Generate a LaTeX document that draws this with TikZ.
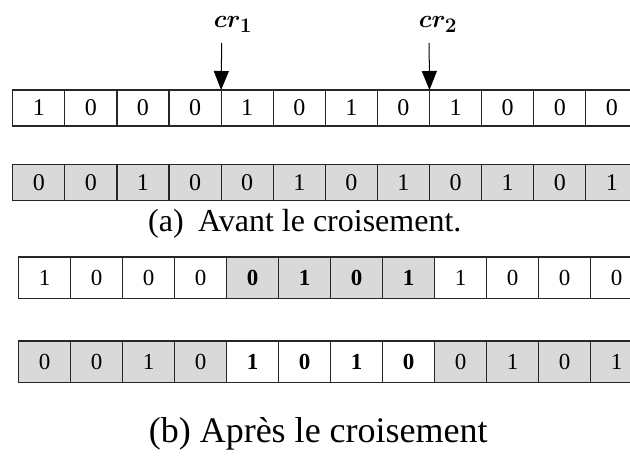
\documentclass[tikz,border=0pt]{standalone}
\usepackage{fontspec}
\setmainfont{Liberation Serif}
\usepackage{bm}
\usetikzlibrary{arrows.meta}
\definecolor{cellgray}{HTML}{D9D9D9}
\definecolor{linec}{HTML}{262626}
\begin{document}
\begin{tikzpicture}[x=1pt,y=-1pt,
  cellA/.style={draw=linec, line width=1.2pt, minimum width=52.1pt, minimum height=36pt,
    inner sep=0pt, outer sep=0pt, anchor=north west, font=\fontsize{24}{24}\selectfont},
  cellB/.style={draw=linec, line width=1.2pt, minimum width=52pt, minimum height=41.5pt,
    inner sep=0pt, outer sep=0pt, anchor=north west, font=\fontsize{23}{23}\selectfont},
  arr/.style={line width=1pt, -{Triangle[width=15pt,length=19pt]}},
  crlab/.style={anchor=base, inner sep=0pt, font=\fontsize{31}{31}\selectfont},
  caption/.style={anchor=base west, inner sep=0pt}]
\path[use as bounding box, fill=white] (0,0) rectangle (630,462);
\clip (0,0) rectangle (630,462);
% row 1
\foreach \v [count=\i] in {1,0,0,0,1,0,1,0,1,0,0,0}
  \node[cellA, fill=white] (r1c\i) at ({12.7+(\i-1)*52.1},90) {\v};
% row 2
\foreach \v [count=\i] in {0,0,1,0,0,1,0,1,0,1,0,1}
  \node[cellA, fill=cellgray] (r2c\i) at ({12.7+(\i-1)*52.1},164.5) {\v};
% row 3
\foreach \v/\f [count=\i] in {1/white,0/white,0/white,0/white,
    \textbf{0}/cellgray,\textbf{1}/cellgray,\textbf{0}/cellgray,\textbf{1}/cellgray,
    1/white,0/white,0/white,0/white}
  \node[cellB, fill=\f] (r3c\i) at ({18.6+(\i-1)*52},257) {\v};
% row 4
\foreach \v/\f [count=\i] in {0/cellgray,0/cellgray,1/cellgray,0/cellgray,
    \textbf{1}/white,\textbf{0}/white,\textbf{1}/white,\textbf{0}/white,
    0/cellgray,1/cellgray,0/cellgray,1/cellgray}
  \node[cellB, fill=\f] (r4c\i) at ({18.6+(\i-1)*52},341) {\v};
% crossing points
\node[crlab] (cr1) at (233,27.5) {$\bm{cr_1}$};
\node[crlab] (cr2) at (438,27.5) {$\bm{cr_2}$};
\coordinate (s1) at (221.7,43);
\coordinate (s2) at (429.1,43);
\draw[arr] (s1) -- (r1c5.north west);
\draw[arr] (s2) -- (r1c9.north west);
% captions
\node[caption, font=\fontsize{32}{32}\selectfont] (capa) at (148,231.7)
  {(a)\hspace{0.45em}Avant le croisement.};
\node[caption, font=\fontsize{36}{36}\selectfont] (capb) at (148.6,443)
  {(b) Après le croisement};
\end{tikzpicture}
\end{document}
